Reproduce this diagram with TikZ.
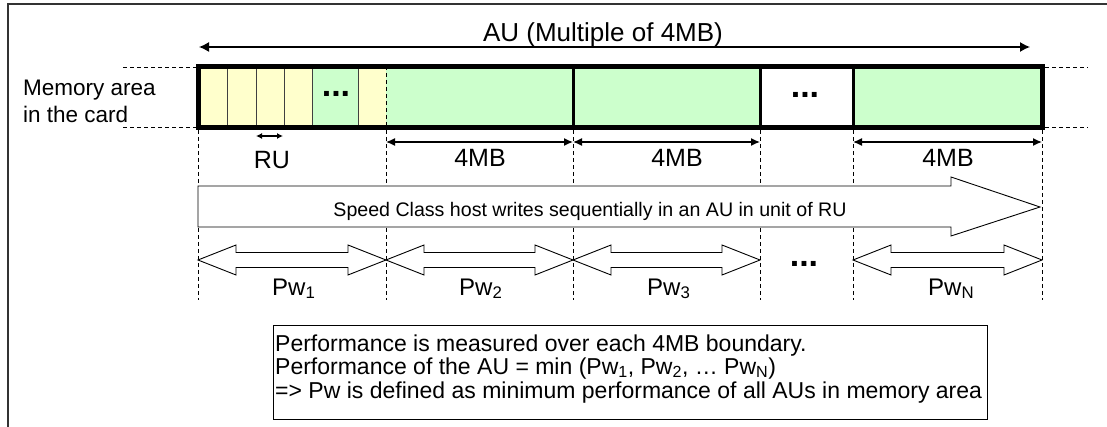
\documentclass[tikz,border=0pt]{standalone}
\usepackage{fontspec}
\setmainfont{Liberation Sans}
\usetikzlibrary{arrows.meta}
\definecolor{ylw}{HTML}{FFFFCC}
\definecolor{grn}{HTML}{CCFFCC}
\newcommand{\pwsub}[1]{\textsubscript{#1}}
\newcommand{\fs}[1]{\fontsize{#1}{#1}\selectfont}
\begin{document}
\begin{tikzpicture}[x=1pt,y=-1pt,
  dimline/.style={{Latex[length=9pt,width=8pt]}-{Latex[length=9pt,width=8pt]}, line width=1.4pt},
  bnd/.style={line width=0.9pt, dash pattern=on 4pt off 3pt},
  thincell/.style={line width=0.8pt, black!75},
  thickcell/.style={line width=3pt},
  blockarrow/.style={draw, fill=white, line width=0.9pt},
  lbl/.style={anchor=base, inner sep=0pt},
  note/.style={anchor=base west, inner sep=0pt, font=\fs{23}},
  dots/.style={anchor=base, inner sep=0pt, font=\fs{34}\bfseries}]
\useasboundingbox (0,0) rectangle (1107,427);
\fill[white] (0,0) rectangle (1107,427);
% frame
\draw[line width=1.6pt, black!80] (8,427) -- (8,4) -- (1107,4);

% boundaries
\foreach \n/\x in {0/198,1/386,2/573,3/760,4/853,5/1042}{
  \coordinate (t\n) at (\x,130);
  \coordinate (d\n) at (\x,300);
}

% AU arrow
\coordinate (auL) at (199,47);
\coordinate (auR) at (1030,47);
\draw[{Latex[length=10pt,width=10pt]}-{Latex[length=10pt,width=10pt]}, line width=1.3pt] (auL) -- (auR);
\node[lbl, font=\fs{26}] (au) at (603,42) {AU (Multiple of 4MB)};

% memory bar cells
\fill[ylw] (198,66) rectangle (312,128);
\fill[grn] (312,66) rectangle (358,128);
\fill[ylw] (358,66) rectangle (386,128);
\fill[grn] (386,66) rectangle (760,128);
\fill[white] (760,66) rectangle (853,128);
\fill[grn] (853,66) rectangle (1042,128);
\foreach \x in {227,256,284,312,358}{\draw[thincell] (\x,66) -- (\x,128);}
\draw[bnd] (386,66) -- (386,128);
\foreach \x in {573,760,853}{\draw[thickcell] (\x,66) -- (\x,128);}
\draw[line width=4.5pt] (198.5,66.5) rectangle (1042.5,127.5);
\node[dots] (dotsA) at (336,97) {...};
\node[dots] (dotsB) at (805,98) {...};

% side dashed lines
\draw[bnd] (123,67) -- (196,67);
\draw[bnd] (123,127) -- (196,127);
\draw[bnd] (1045,67) -- (1088,67);
\draw[bnd] (1045,127) -- (1088,127);
\node[anchor=base west, inner sep=0pt, font=\fs{22.5}] (mem1) at (23,96) {Memory area};
\node[anchor=base west, inner sep=0pt, font=\fs{22.5}] (mem2) at (23,123) {in the card};

% vertical dashed boundaries
\foreach \n in {0,...,5}{\draw[bnd] (t\n) -- (d\n);}

% 4MB dimension arrows
\coordinate (m1) at (386,142);
\coordinate (m2) at (573,142);
\coordinate (m3) at (760,142);
\coordinate (m4) at (853,142);
\coordinate (m5) at (1042,142);
\draw[dimline] (m1) -- (m2);
\draw[dimline] (m2) -- (m3);
\draw[dimline] (m4) -- (m5);
\node[lbl, font=\fs{25}] (mb1) at (480,167) {4MB};
\node[lbl, font=\fs{25}] (mb2) at (677,167) {4MB};
\node[lbl, font=\fs{25}] (mb3) at (948,167) {4MB};

% RU
\coordinate (ruL) at (256,136);
\coordinate (ruR) at (283,136);
\draw[{Latex[length=6pt,width=6pt]}-{Latex[length=6pt,width=6pt]}, line width=1.3pt] (ruL) -- (ruR);
\node[lbl, font=\fs{25}] (ru) at (272,169) {RU};

% speed class arrow
\draw[blockarrow] (198,186) -- (951,186) -- (951,177) -- (1040,207) -- (951,236) -- (951,227) -- (198,227) -- cycle;
\node[lbl, font=\fs{19.6}] (speed) at (590,216.5) {Speed Class host writes sequentially in an AU in unit of RU};

% Pw double block arrows
\foreach \l/\r in {198/386,386/573,573/760,853/1042}{
  \draw[blockarrow] (\l,260) -- ({\l+38},245) -- ({\l+38},252.5) -- ({\r-38},252.5) -- ({\r-38},245) -- (\r,260)
     -- ({\r-38},275) -- ({\r-38},267.5) -- ({\l+38},267.5) -- ({\l+38},275) -- cycle;
}
\node[dots] (dotsC) at (804,267) {...};
\node[anchor=base west, inner sep=0pt, font=\fs{24}] (pw1) at (272,295) {Pw\pwsub{1}};
\node[anchor=base west, inner sep=0pt, font=\fs{24}] (pw2) at (459,295) {Pw\pwsub{2}};
\node[anchor=base west, inner sep=0pt, font=\fs{24}] (pw3) at (647,295) {Pw\pwsub{3}};
\node[anchor=base west, inner sep=0pt, font=\fs{24}] (pwn) at (928,295) {Pw\pwsub{N}};

% bottom note box
\draw[line width=1pt] (273,325) rectangle (987,419);
\node[note] (n1) at (275,351) {Performance is measured over each 4MB boundary.};
\node[note] (n2) at (275,374) {Performance of the AU = min (Pw\pwsub{1}, Pw\pwsub{2}, … Pw\pwsub{N})};
\node[note] (n3) at (275,398) {=> Pw is defined as minimum performance of all AUs in memory area};
\end{tikzpicture}
\end{document}
